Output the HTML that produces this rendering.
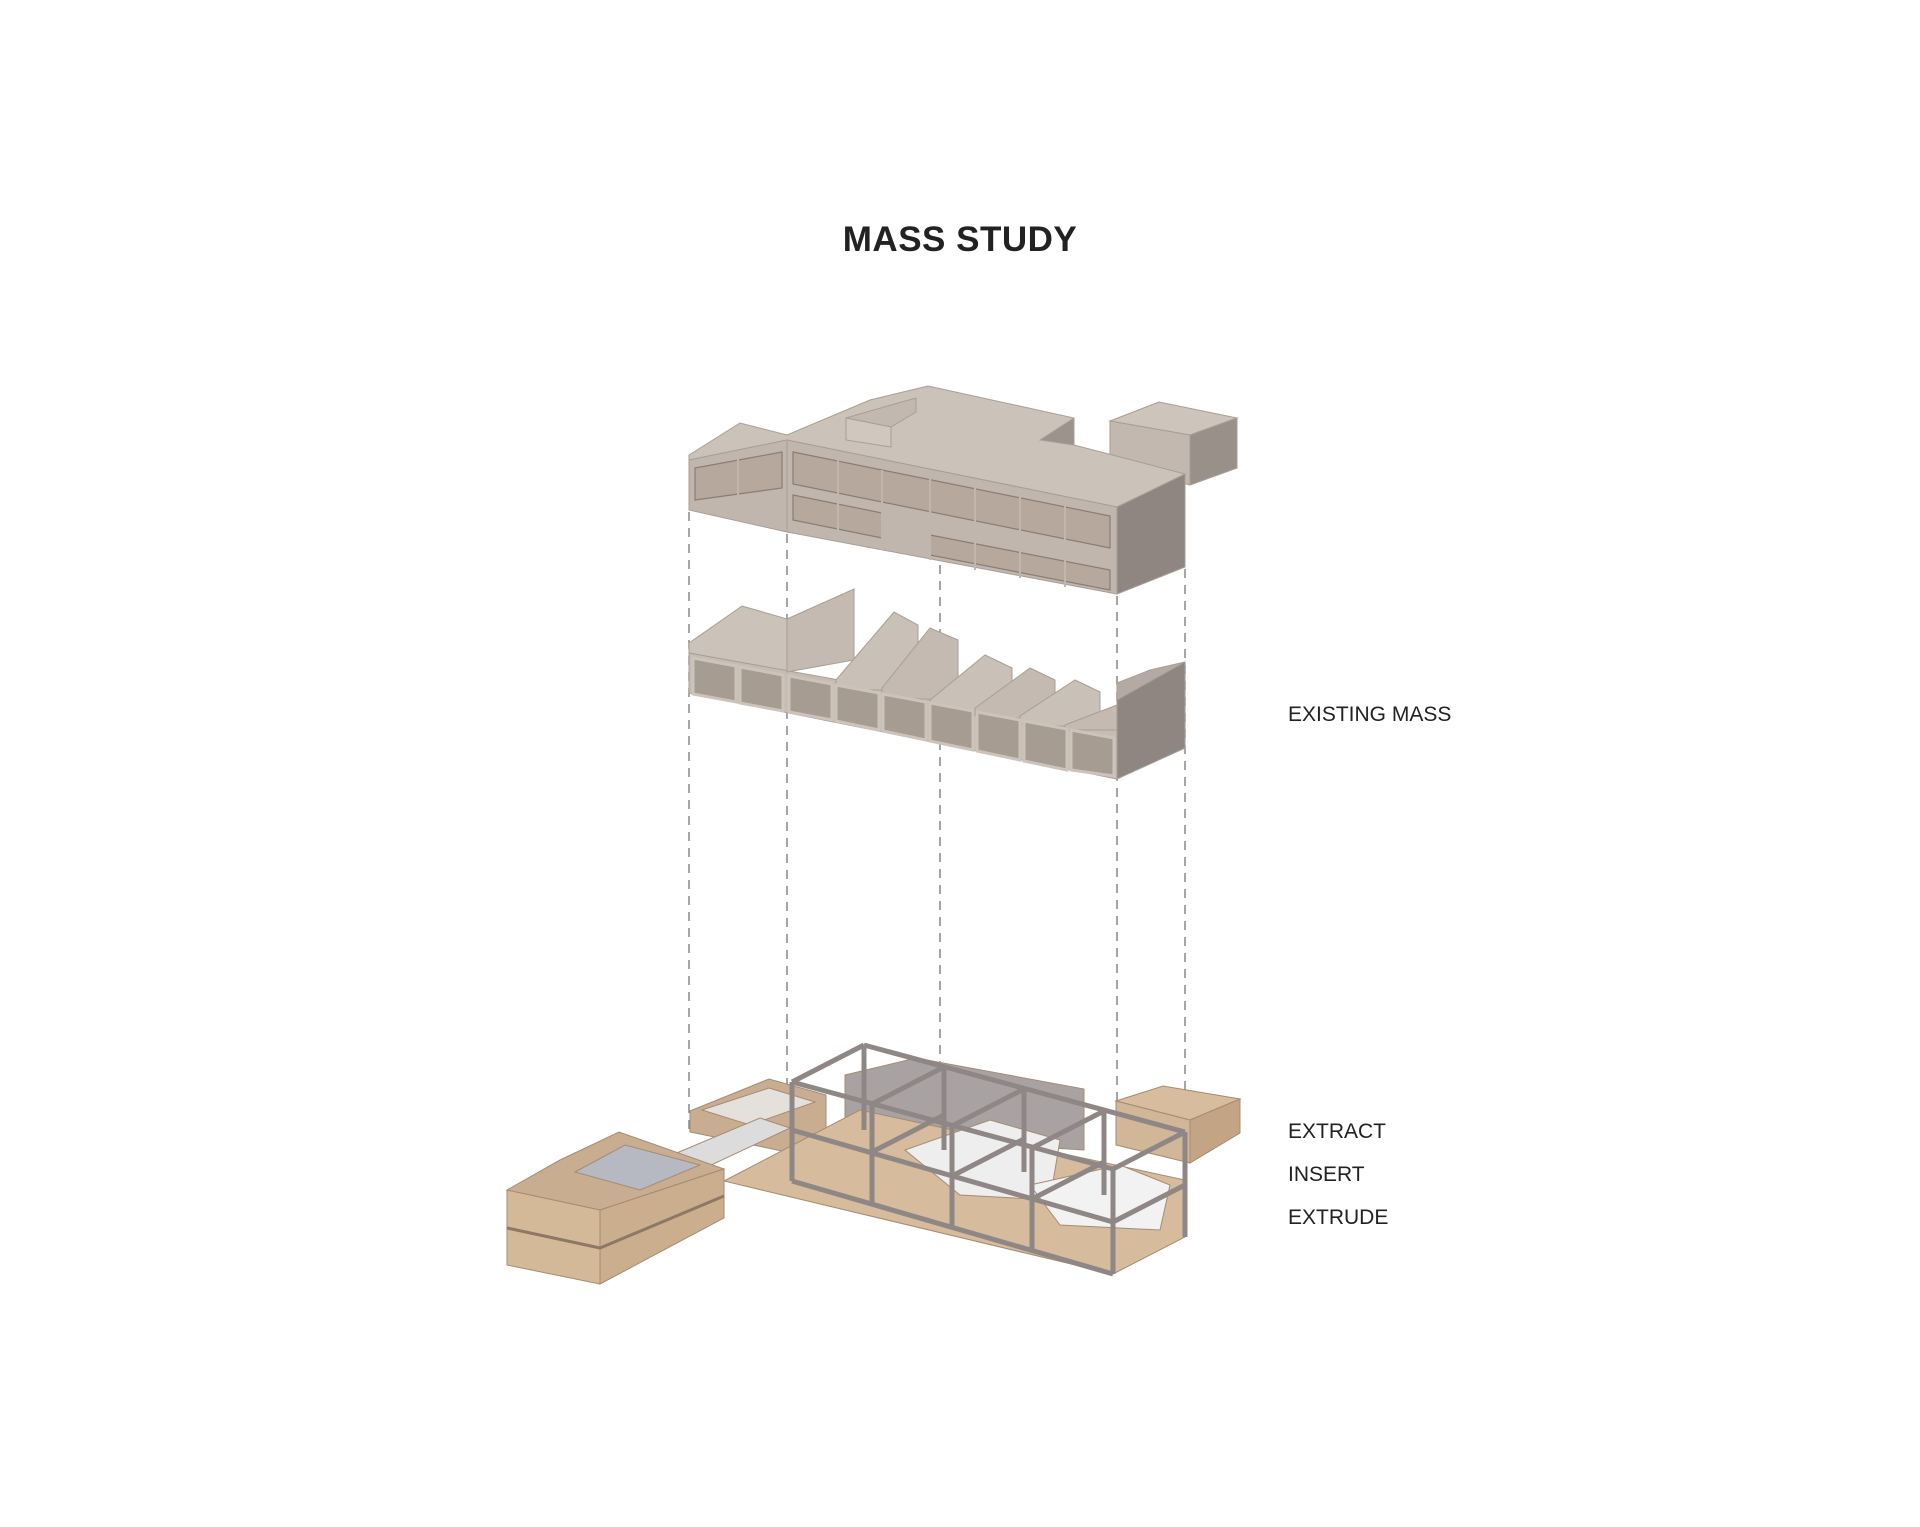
<!DOCTYPE html>
<html><head><meta charset="utf-8"><style>
html,body{margin:0;padding:0;background:#fff}
body{width:1920px;height:1527px;position:relative;overflow:hidden;font-family:"Liberation Sans","DejaVu Sans",sans-serif}
.t{position:absolute;color:#222}
#title{left:0;width:1920px;text-align:center;top:220px;font-size:35px;font-weight:bold;letter-spacing:0.5px}
.lab{font-size:21px;left:1288px}
</style></head><body>
<div class="t" id="title">MASS STUDY</div>
<div class="t lab" style="top:703px">EXISTING MASS</div>
<div class="t lab" style="top:1120px">EXTRACT</div>
<div class="t lab" style="top:1163px">INSERT</div>
<div class="t lab" style="top:1206px">EXTRUDE</div>
<svg width="1920" height="1527" style="position:absolute;left:0;top:0">
<g stroke="#888" stroke-width="1.5" stroke-dasharray="9,7" fill="none">
<line x1="689" y1="512" x2="689" y2="1135"/>
<line x1="787" y1="534" x2="787" y2="1090"/>
<line x1="940" y1="565" x2="940" y2="1065"/>
<line x1="1117" y1="596" x2="1117" y2="1105"/>
<line x1="1185" y1="569" x2="1185" y2="1100"/>
</g>
<g stroke="#a89e96" stroke-width="1">
<polygon points="1110,421 1159,402 1237,418 1190,435" fill="#cdc4bc"/>
<polygon points="1110,421 1190,435 1190,485 1110,464" fill="#c2b8af"/>
<polygon points="1190,435 1237,418 1237,468 1190,485" fill="#9a908a"/>
<polygon points="689,455 740,423 787,435 870,400 928,386 1074,418 1074,445 1185,474 1117,507 787,440 689,460" fill="#cbc2ba"/>
<polygon points="1040,440 1074,418 1074,445" fill="#9d938d"/>
<polygon points="846,418 891,405 916,398 916,412 891,427" fill="#c2b8b0"/>
<polygon points="846,418 891,427 891,447 846,440" fill="#d0c7bf"/>
<polygon points="689,460 787,440 787,532 689,510" fill="#c0b6ad"/>
<polygon points="787,440 1117,507 1117,594 787,532" fill="#c0b6ad"/>
<polygon points="1117,507 1185,474 1185,567 1117,594" fill="#8f8681"/>
</g>
<g stroke="#8b7d72" stroke-width="1.2" fill="#b6a89c">
<polygon points="695,468 782,452 782,488 695,500"/>
<polygon points="793,452 1110,516 1110,548 793,484"/>
<polygon points="793,495 882,513 882,538 793,520"/>
<polygon points="930,535 1110,570 1110,590 930,555"/>
</g>
<g stroke="#c0b6ad" stroke-width="2">
<line x1="738" y1="458" x2="738" y2="505"/><line x1="838" y1="460" x2="838" y2="540"/><line x1="882" y1="470" x2="882" y2="550"/><line x1="930" y1="478" x2="930" y2="560"/><line x1="975" y1="488" x2="975" y2="570"/><line x1="1020" y1="497" x2="1020" y2="578"/><line x1="1065" y1="506" x2="1065" y2="587"/>
</g>
<g stroke="#a89e96" stroke-width="1">
<polygon points="689,643 742,606 787,619 787,672 689,653" fill="#cbc2ba"/>
<polygon points="689,653 1117,730 1117,779 689,693" fill="#c6bcb3"/>
<polygon points="1117,683 1185,662 1185,748 1117,779" fill="#8f8681"/>
<polygon points="787,619 854,589 854,660 787,672" fill="#c4bab2"/>
<polygon points="836,680 894,612 918,625 918,690 836,690" fill="#c9c0b8"/>
<polygon points="882,688 930,628 958,640 958,700 882,698" fill="#c4bab2"/>
<polygon points="930,700 985,655 1012,668 1012,712 930,708" fill="#c9c0b8"/>
<polygon points="975,708 1030,668 1055,680 1055,720 975,716" fill="#c4bab2"/>
<polygon points="1020,716 1075,680 1100,692 1100,728 1020,724" fill="#c9c0b8"/>
<polygon points="1065,725 1117,705 1117,730 1065,730" fill="#c4bab2"/>
<polygon points="1117,683 1150,670 1185,662 1117,700" fill="#b4aaa3"/>
</g>
<g fill="#a79c92" stroke="#ccc3bb" stroke-width="3">
<polygon points="693,658 736,666 736,702 693,694"/><polygon points="740,667 783,675 783,711 740,703"/>
<polygon points="789,676 832,684 832,720 789,712"/><polygon points="836,685 879,693 879,730 836,721"/>
<polygon points="883,694 926,702 926,740 883,731"/><polygon points="930,703 973,711 973,750 930,741"/>
<polygon points="977,712 1020,720 1020,760 977,751"/><polygon points="1024,721 1067,729 1067,770 1024,761"/>
<polygon points="1071,730 1114,738 1114,776 1071,770"/>
</g>
<g stroke="#a48c73" stroke-width="1">
<polygon points="845,1075 916,1058 1084,1089 1084,1150 845,1135" fill="#a9a2a3"/>
<polygon points="690,1111 769,1079 826,1095 826,1160 690,1132" fill="#c8ad90"/>
<polygon points="702,1110 769,1088 815,1102 750,1125" fill="#e4e0dc"/>
<polygon points="724,1181 860,1110 1185,1180 1185,1237 1113,1274" fill="#d6bb9c"/>
<polygon points="905,1150 990,1120 1060,1140 1050,1200 960,1195" fill="#eeeeee"/>
<polygon points="1030,1185 1120,1165 1170,1185 1160,1230 1060,1225" fill="#f2f2f2"/>
<polygon points="1116,1101 1163,1086 1240,1099 1190,1120" fill="#d7bc9e"/>
<polygon points="1116,1101 1190,1120 1190,1163 1116,1145" fill="#d2b698"/>
<polygon points="1190,1120 1240,1099 1240,1133 1190,1163" fill="#c3a585"/>
<polygon points="660,1160 760,1118 790,1128 690,1175" fill="#dcdcdc"/>
<polygon points="507,1190 560,1160 619,1132 724,1169 600,1210" fill="#c8ad90"/>
<polygon points="575,1172 625,1145 700,1165 640,1190" fill="#b6b8c2"/>
<polygon points="507,1190 600,1210 600,1284 507,1265" fill="#d4b999"/>
<polygon points="600,1210 724,1169 724,1218 600,1284" fill="#caae8e"/>
<line x1="507" y1="1228" x2="600" y2="1248" stroke="#8d7865" stroke-width="3"/>
<line x1="600" y1="1248" x2="724" y2="1196" stroke="#8d7865" stroke-width="3"/>
</g>
<g stroke="#8e8785" stroke-width="5" fill="none">
<line x1="792" y1="1082" x2="792" y2="1181"/>
<line x1="872" y1="1104" x2="872" y2="1204"/>
<line x1="952" y1="1126" x2="952" y2="1228"/>
<line x1="1032" y1="1148" x2="1032" y2="1251"/>
<line x1="1113" y1="1169" x2="1113" y2="1274"/>
<line x1="1185" y1="1132" x2="1185" y2="1237"/>
<line x1="864" y1="1045" x2="864" y2="1130"/>
<line x1="792" y1="1082" x2="1113" y2="1169"/>
<line x1="792" y1="1130" x2="1113" y2="1222"/>
<line x1="792" y1="1181" x2="1113" y2="1274"/>
<line x1="864" y1="1045" x2="1185" y2="1132"/>
<line x1="1113" y1="1169" x2="1185" y2="1132"/>
<line x1="792" y1="1082" x2="864" y2="1045"/>
<line x1="872" y1="1104" x2="944" y2="1067"/>
<line x1="952" y1="1126" x2="1024" y2="1089"/>
<line x1="1032" y1="1148" x2="1104" y2="1111"/>
<line x1="944" y1="1067" x2="944" y2="1150"/>
<line x1="1024" y1="1089" x2="1024" y2="1172"/>
<line x1="1104" y1="1111" x2="1104" y2="1195"/>
<line x1="872" y1="1152" x2="944" y2="1115"/>
<line x1="952" y1="1176" x2="1024" y2="1139"/>
<line x1="1032" y1="1199" x2="1104" y2="1162"/>
<line x1="1113" y1="1222" x2="1185" y2="1185"/>
</g>
</svg>
</body></html>
